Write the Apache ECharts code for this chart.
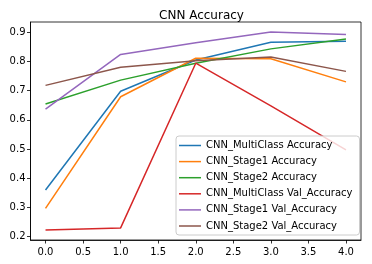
<!DOCTYPE html>
<html><head><meta charset="utf-8">
<script src="https://cdn.jsdelivr.net/npm/echarts@6/dist/echarts.min.js"></script>
<style>html,body{margin:0;padding:0;background:#fff}#c{width:372px;height:264px}</style>
</head><body><div id="c"></div>
<script>
const epochs = [0, 1, 2, 3, 4];
const seriesNames = ['CNN_MultiClass Accuracy','CNN_Stage1 Accuracy','CNN_Stage2 Accuracy','CNN_MultiClass Val_Accuracy','CNN_Stage1 Val_Accuracy','CNN_Stage2 Val_Accuracy'];
const multiAcc = [0.360, 0.698, 0.805, 0.866, 0.869];
const stage1Acc = [0.297, 0.679, 0.811, 0.809, 0.730];
const stage2Acc = [0.654, 0.736, 0.794, 0.843, 0.877];
const multiVal = [0.223, 0.230, 0.794, 0.648, 0.497];
const stage1Val = [0.637, 0.824, 0.864, 0.901, 0.892];
const stage2Val = [0.718, 0.780, 0.802, 0.815, 0.766];
const xTicks = [0, 0.5, 1, 1.5, 2, 2.5, 3, 3.5, 4];
const yTicks = [0.2, 0.3, 0.4, 0.5, 0.6, 0.7, 0.8, 0.9];
const colors = ['#1f77b4','#ff7f0e','#2ca02c','#d62728','#9467bd','#8c564b'];
const allData = [multiAcc, stage1Acc, stage2Acc, multiVal, stage1Val, stage2Val];
const font = 'DejaVu Sans';
const chart = echarts.init(document.getElementById('c'), null, {renderer:'canvas'});
chart.setOption({
  animation: false,
  backgroundColor: '#fff',
  title: {text: 'CNN Accuracy', left: 196.5, top: 5, textAlign: 'center',
    textStyle: {fontFamily: font, fontSize: 12, fontWeight: 'normal', color: '#000'}},
  grid: {left: 30.5, right: 11, top: 22, bottom: 24, show: true, borderColor: '#000', borderWidth: 0.8, containLabel: false},
  xAxis: {type: 'value', min: -0.2, max: 4.2,
    axisLine: {show: true, onZero: false, lineStyle: {color: '#000', width: 0.8}},
    axisTick: {show: true, customValues: xTicks, length: 3.5, lineStyle: {color: '#000', width: 0.8}},
    axisLabel: {customValues: xTicks, margin: 7, fontFamily: font, fontSize: 10, color: '#000',
      formatter: v => v.toFixed(1)},
    splitLine: {show: false}},
  yAxis: {type: 'value', min: 0.1887, max: 0.935,
    axisLine: {show: true, onZero: false, lineStyle: {color: '#000', width: 0.8}},
    axisTick: {show: true, customValues: yTicks, length: 3.5, lineStyle: {color: '#000', width: 0.8}},
    axisLabel: {customValues: yTicks, margin: 5, fontFamily: font, fontSize: 10, color: '#000',
      formatter: v => v.toFixed(1)},
    splitLine: {show: false}},
  legend: {orient: 'vertical', right: 12.5, bottom: 29, icon: 'rect', itemWidth: 22, itemHeight: 1.5,
    itemGap: 4.1, padding: [3.5, 7, 3, 3],
    backgroundColor: 'rgba(255,255,255,0.8)', borderColor: '#ccc', borderWidth: 1, borderRadius: 3,
    textStyle: {fontFamily: font, fontSize: 10, color: '#000', lineHeight: 12},
    data: seriesNames},
  series: seriesNames.map((n, i) => ({
    name: n, type: 'line', data: epochs.map((e, j) => [e, allData[i][j]]),
    showSymbol: false, symbol: 'none', lineStyle: {width: 1.5, color: colors[i]}, itemStyle: {color: colors[i]}
  }))
});
</script></body></html>
